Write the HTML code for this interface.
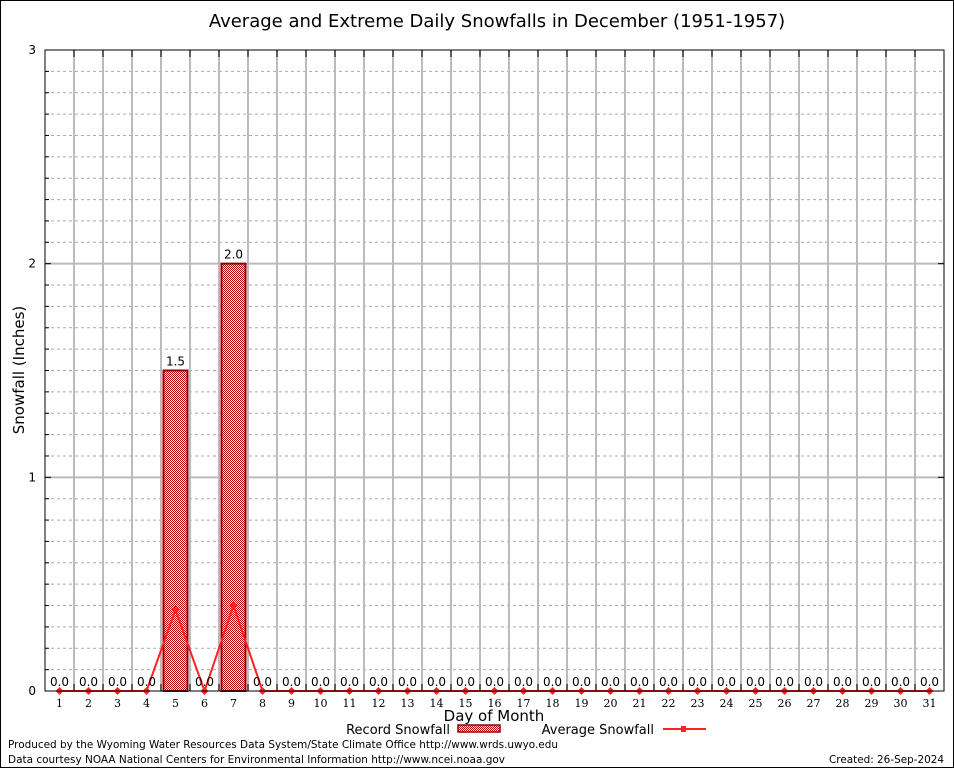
<!DOCTYPE html>
<html><head><meta charset="utf-8"><style>
html,body{margin:0;padding:0;background:#fff;}
svg{display:block;font-family:"DejaVu Sans","Liberation Sans",sans-serif;}
</style></head><body>
<svg id="chart" width="954" height="768" viewBox="0 0 954 768" xmlns="http://www.w3.org/2000/svg">
<defs>
<pattern id="chk" width="2" height="2" patternUnits="userSpaceOnUse">
<rect width="2" height="2" fill="#fff"/>
<rect width="1" height="1" fill="#c00000"/>
<rect x="1" y="1" width="1" height="1" fill="#c00000"/>
</pattern>
</defs>
<rect x="0.5" y="0.5" width="953" height="767" fill="#fff" stroke="#000"/>
<text x="497" y="27" font-size="18" text-anchor="middle">Average and Extreme Daily Snowfalls in December (1951-1957)</text>
<g id="grid"></g>
<g id="bars"></g>
<g id="line"></g>
<g id="labels"></g>
<rect x="45" y="50" width="899" height="641" fill="none" stroke="#000" stroke-width="1"/>
<g id="axes"></g>
<text x="24" y="370" font-size="15" text-anchor="middle" transform="rotate(-90 24 370)">Snowfall (Inches)</text>
<text x="494" y="721" font-size="15" text-anchor="middle">Day of Month</text>
<g>
<text x="450" y="734" font-size="13" text-anchor="end">Record Snowfall</text>
<rect x="458" y="725" width="42" height="7" fill="url(#chk)" stroke="#900000" stroke-width="1.5"/>
<text x="654" y="734" font-size="13" text-anchor="end">Average Snowfall</text>
<line x1="663" y1="729" x2="706" y2="729" stroke="#f22" stroke-width="2"/>
<rect x="681" y="726" width="5" height="6" fill="#f22"/>
</g>
<text x="8" y="748" font-size="11" textLength="550" lengthAdjust="spacingAndGlyphs">Produced by the Wyoming Water Resources Data System/State Climate Office http://www.wrds.uwyo.edu</text>
<text x="8" y="763" font-size="11" textLength="497" lengthAdjust="spacingAndGlyphs">Data courtesy NOAA National Centers for Environmental Information http://www.ncei.noaa.gov</text>
<text x="829" y="763" font-size="11" textLength="115" lengthAdjust="spacingAndGlyphs">Created: 26-Sep-2024</text>
</svg>
<script>
const days = Array.from({length:31},(_,i)=>i+1);
const record = [0,0,0,0,1.5,0,2.0,0,0,0,0,0,0,0,0,0,0,0,0,0,0,0,0,0,0,0,0,0,0,0,0];
const average = [0,0,0,0,0.38,0,0.40,0,0,0,0,0,0,0,0,0,0,0,0,0,0,0,0,0,0,0,0,0,0,0,0];
const yTicks = [0,1,2,3];
const NS="http://www.w3.org/2000/svg";
const L=45,R=944,T=50,B=691;
const xs=d=>L+(d-0.5)*(R-L)/31;
const ys=v=>B-v*(B-T)/3;
function mk(tag,attrs,parent){const e=document.createElementNS(NS,tag);for(const k in attrs)e.setAttribute(k,attrs[k]);document.getElementById(parent).appendChild(e);return e;}
for(let i=1;i<30;i++){ if(i%10===0) continue; const v=i/10;
  const e=mk('line',{x1:L,x2:R,y1:ys(v),y2:ys(v),stroke:'#aaa','stroke-dasharray':'3,3','stroke-width':1},'grid');
  
  }
yTicks.forEach(v=>{ if(v>0&&v<3){const e=mk('line',{x1:L,x2:R,y1:ys(v),y2:ys(v),stroke:'#bbb','stroke-width':2},'grid');
  
  }
  const t=mk('text',{x:L-9,y:ys(v)+4,'font-size':12,'text-anchor':'end'},'axes');t.textContent=v;
  
  
  const tk=mk('line',{x1:L,x2:L+6,y1:ys(v),y2:ys(v),stroke:'#000'},'axes');
  
  
  const tk2=mk('line',{x1:R-6,x2:R,y1:ys(v),y2:ys(v),stroke:'#000'},'axes');
  
  
});
for(let i=1;i<30;i++){ if(i%10===0) continue;
  const e=mk('line',{x1:L,x2:L+4,y1:ys(i/10),y2:ys(i/10),stroke:'#000'},'axes');
  
  }
for(let d=1;d<31;d++){const x=xs(d+0.5);
  const e=mk('line',{x1:x,x2:x,y1:T,y2:B,stroke:'#bbb','stroke-width':2},'grid');
  
  
  const a=mk('line',{x1:x,x2:x,y1:T,y2:T+7,stroke:'#000'},'axes');
  
  
  const b=mk('line',{x1:x,x2:x,y1:B-7,y2:B,stroke:'#000'},'axes');
  
  }
days.forEach((d,i)=>{
  const t=mk('text',{x:xs(d),y:707,'font-size':11,'text-anchor':'middle','font-family':'DejaVu Serif, Liberation Serif, serif'},'axes');t.textContent=d;
  
  
  if(record[i]>0){const r=mk('rect',{x:xs(d)-12,y:ys(record[i]),width:24,height:B-ys(record[i]),fill:'url(#chk)',stroke:'#900000','stroke-width':2},'bars');
    
    }
  const lb=mk('text',{x:xs(d),y:ys(record[i])-5,'font-size':12,'text-anchor':'middle'},'labels');lb.textContent=record[i].toFixed(1);
  
  
});
const pl=mk('polyline',{points:days.map((d,i)=>xs(d)+','+ys(average[i])).join(' '),fill:'none',stroke:'#f22','stroke-width':2},'line');


days.forEach((d,i)=>{const m=mk('path',{d:`M${xs(d)-4},${ys(average[i])}l4,-4l4,4l-4,4z`,fill:'#f22'},'line');
  
  });
</script>
</body></html>
